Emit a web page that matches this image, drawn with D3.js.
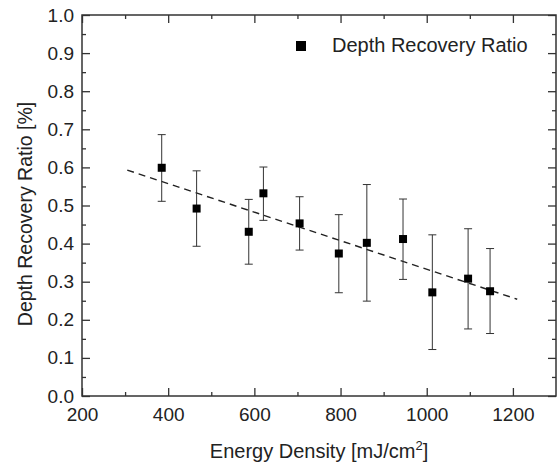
<!DOCTYPE html>
<html>
<head>
<meta charset="utf-8">
<script src="https://cdn.jsdelivr.net/npm/d3@7"></script>
<style>
  body { margin: 0; background: #fff; }
  svg text { font-family: "Liberation Sans", Arial, sans-serif; fill: #222; }
</style>
</head>
<body>
<div id="container"></div>
<script>
let w = 557;
let h = 464;

// data
let energy   = [385, 466, 587, 621, 705, 796, 861, 945, 1013, 1096, 1147];
let ratio    = [0.599, 0.492, 0.431, 0.532, 0.453, 0.374, 0.402, 0.412, 0.272, 0.308, 0.275];
let errUpper = [0.686, 0.591, 0.516, 0.601, 0.523, 0.476, 0.555, 0.517, 0.423, 0.439, 0.387];
let errLower = [0.511, 0.393, 0.346, 0.461, 0.383, 0.271, 0.249, 0.306, 0.122, 0.176, 0.164];
let fitX = [305, 1210];
let fitY = [0.593, 0.254];
let xTicks = [200, 400, 600, 800, 1000, 1200];
let yTicks = [0.0, 0.1, 0.2, 0.3, 0.4, 0.5, 0.6, 0.7, 0.8, 0.9, 1.0];
let legendLabel = "Depth Recovery Ratio";

let margin = {top: 15, right: 1, bottom: 68, left: 82};

let viz = d3.select("#container")
  .append("svg")
    .attr("width", w)
    .attr("height", h)
;

let xScale = d3.scaleLinear().domain([200, 1300]).range([margin.left, w - margin.right]);
let yScale = d3.scaleLinear().domain([0, 1]).range([h - margin.bottom, margin.top]);

let axisColor = "#333";

// minor ticks first, then major with labels
function styleAxis(g){
  g.select(".domain").remove();
  g.selectAll(".tick line").attr("stroke", axisColor).attr("stroke-width", 1.3);
  g.selectAll(".tick text").style("font-size", "19px").style("fill", "#222");
}

let xMinor = d3.range(300, 1300, 200);
let yMinor = d3.range(0.05, 1, 0.1);

// bottom
viz.append("g").attr("transform", "translate(0," + yScale(0) + ")")
  .call(d3.axisBottom(xScale).tickValues(xMinor).tickSize(-4).tickFormat(""))
  .call(styleAxis);
viz.append("g").attr("transform", "translate(0," + yScale(0) + ")")
  .call(d3.axisBottom(xScale).tickValues(xTicks).tickSize(-8).tickPadding(12).tickFormat(d3.format("d")))
  .call(styleAxis);
// top
viz.append("g").attr("transform", "translate(0," + yScale(1) + ")")
  .call(d3.axisTop(xScale).tickValues(xMinor).tickSize(-4).tickFormat(""))
  .call(styleAxis);
viz.append("g").attr("transform", "translate(0," + yScale(1) + ")")
  .call(d3.axisTop(xScale).tickValues(xTicks).tickSize(-8).tickFormat(""))
  .call(styleAxis);
// left
viz.append("g").attr("transform", "translate(" + xScale(200) + ",0)")
  .call(d3.axisLeft(yScale).tickValues(yMinor).tickSize(-4).tickFormat(""))
  .call(styleAxis);
viz.append("g").attr("transform", "translate(" + xScale(200) + ",0)")
  .call(d3.axisLeft(yScale).tickValues(yTicks).tickSize(-8).tickPadding(8).tickFormat(d3.format(".1f")))
  .call(styleAxis);
// right
viz.append("g").attr("transform", "translate(" + xScale(1300) + ",0)")
  .call(d3.axisRight(yScale).tickValues(yMinor).tickSize(-4).tickFormat(""))
  .call(styleAxis);
viz.append("g").attr("transform", "translate(" + xScale(1300) + ",0)")
  .call(d3.axisRight(yScale).tickValues(yTicks).tickSize(-8).tickFormat(""))
  .call(styleAxis);

// frame
viz.append("rect")
  .attr("x", xScale(200))
  .attr("y", yScale(1))
  .attr("width", xScale(1300) - xScale(200))
  .attr("height", yScale(0) - yScale(1))
  .attr("fill", "none")
  .attr("stroke", axisColor)
  .attr("stroke-width", 1.5)
;

// fit line
let fitData = fitX.map((d, i) => ({x: d, y: fitY[i]}));
viz.append("path")
  .datum(fitData)
  .attr("d", d3.line().x(d => xScale(d.x)).y(d => yScale(d.y)))
  .attr("fill", "none")
  .attr("stroke", "#222")
  .attr("stroke-width", 1.4)
  .attr("stroke-dasharray", "7,5")
;

// points with error bars
let points = energy.map((d, i) => ({x: d, y: ratio[i], hi: errUpper[i], lo: errLower[i]}));
let groups = viz.selectAll(".datagroup").data(points).enter()
  .append("g")
    .attr("class", "datagroup")
;
let cap = 4;
groups.append("line")
  .attr("x1", d => xScale(d.x)).attr("x2", d => xScale(d.x))
  .attr("y1", d => yScale(d.hi)).attr("y2", d => yScale(d.lo))
  .attr("stroke", "#333").attr("stroke-width", 1);
groups.append("line")
  .attr("x1", d => xScale(d.x) - cap).attr("x2", d => xScale(d.x) + cap)
  .attr("y1", d => yScale(d.hi)).attr("y2", d => yScale(d.hi))
  .attr("stroke", "#333").attr("stroke-width", 1);
groups.append("line")
  .attr("x1", d => xScale(d.x) - cap).attr("x2", d => xScale(d.x) + cap)
  .attr("y1", d => yScale(d.lo)).attr("y2", d => yScale(d.lo))
  .attr("stroke", "#333").attr("stroke-width", 1);
groups.append("rect")
  .attr("x", d => xScale(d.x) - 4)
  .attr("y", d => yScale(d.y) - 4)
  .attr("width", 8)
  .attr("height", 8)
  .attr("fill", "#000");

// legend
viz.append("rect")
  .attr("x", 296).attr("y", 41).attr("width", 10).attr("height", 10)
  .attr("fill", "#000");
viz.append("text")
  .attr("x", 332).attr("y", 52)
  .style("font-size", "20px")
  .text(legendLabel);

// axis titles
let xt = viz.append("text")
  .attr("x", (xScale(200) + xScale(1300)) / 2)
  .attr("y", 458)
  .attr("text-anchor", "middle")
  .style("font-size", "20px");
xt.append("tspan").text("Energy Density [mJ/cm");
xt.append("tspan").text("2").style("font-size", "13px").attr("dy", -8);
xt.append("tspan").text("]").attr("dy", 8);

viz.append("text")
  .attr("transform", "translate(32,214) rotate(-90)")
  .attr("text-anchor", "middle")
  .style("font-size", "19.5px")
  .text("Depth Recovery Ratio [%]");
</script>
</body>
</html>
